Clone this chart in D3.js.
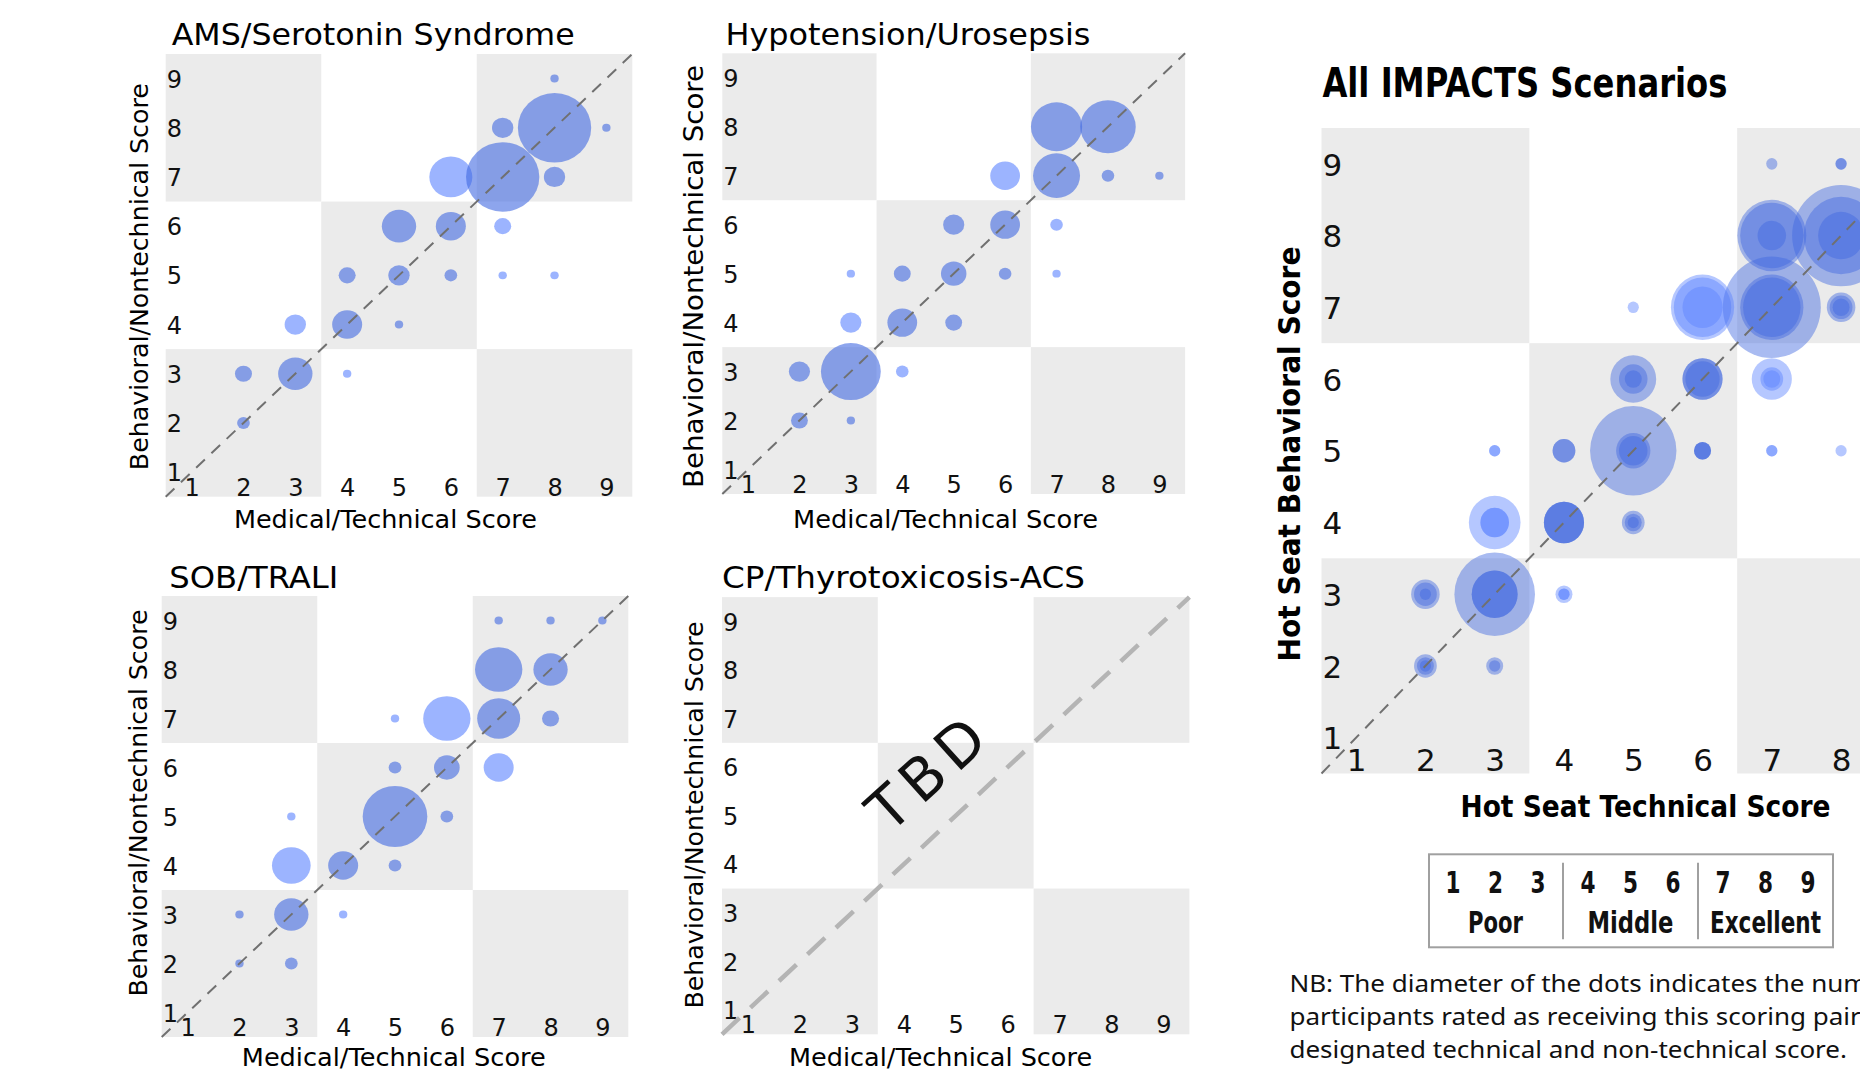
<!DOCTYPE html>
<html><head><meta charset="utf-8">
<script src="https://cdn.jsdelivr.net/npm/d3@7"></script>
<style>html,body{margin:0;padding:0;background:#fff;overflow:hidden}</style>
</head><body><svg id="c" width="1860" height="1072" xmlns="http://www.w3.org/2000/svg"></svg>
<script>
// ---------------- DATA ----------------
const scores = [1,2,3,4,5,6,7,8,9];
const tickLabels = ["1","2","3","4","5","6","7","8","9"];
const categoryLabels = ["Poor","Middle","Excellent"];
const scenarioTitles = ["AMS/Serotonin Syndrome","Hypotension/Urosepsis","SOB/TRALI","CP/Thyrotoxicosis-ACS"];
const combinedTitle = "All IMPACTS Scenarios";
const noteLines = [
  "NB: The diameter of the dots indicates the number of",
  "participants rated as receiving this scoring pair (i.e.",
  "designated technical and non-technical score."
];

// AMS / Serotonin Syndrome
const amsTech  = [8,8,9,7,6,7,8,5,6,7,4,5,6,7,8,3,4,5,2,3,4,2];
const amsBehav = [9,8,8,8,7,7,7,6,6,6,5,5,5,5,5,4,4,4,3,3,3,2];
const amsCount = [1,16,1,4,9,16,4,7,6,3,3,4,2,1,1,4,6,1,3,7,1,2];
// Hypotension / Urosepsis
const hypoTech  = [7,8,6,7,8,9,5,6,7,3,4,5,6,7,3,4,5,2,3,4,2,3];
const hypoBehav = [8,8,7,7,7,7,6,6,6,5,5,5,5,5,4,4,4,3,3,3,2,2];
const hypoCount = [11,12,6,10,2,1,4,6,2,1,3,5,2,1,4,6,3,4,13,2,3,1];
// SOB / TRALI
const sobTech  = [7,8,9,7,8,5,6,7,8,5,6,7,3,5,6,3,4,5,2,3,4,2,3];
const sobBehav = [9,9,9,8,8,7,7,7,7,6,6,6,5,5,5,4,4,4,3,3,3,2,2];
const sobCount = [1,1,1,10,7,1,10,9,3,2,5,6,1,14,2,8,6,2,1,7,1,1,2];
// CP / Thyrotoxicosis-ACS : TBD (no data)

const countDomain = [1,16];

// ---------------- HELPERS ----------------
function zip(t,b,c){ return t.map((v,i)=>({tech:v, behav:b[i], n:c[i]})); }
const amsData = zip(amsTech, amsBehav, amsCount);
const hypoData = zip(hypoTech, hypoBehav, hypoCount);
const sobData = zip(sobTech, sobBehav, sobCount);

const category = s => Math.ceil(s/3) - 1;
const diamUnits = d3.scaleLinear().domain(countDomain).range([0.1615, 1.414]);
const colConcordant = "#4169e1";
const colDiscordant = "#5a82ff";
const grayBg = "#ebebeb";
const mainFont = "'DejaVu Sans', Verdana, sans-serif";
const W = 1860;

const svg = d3.select("#c");
svg.append("rect").attr("width",1860).attr("height",1072).attr("fill","#fff");

function drawPanel(cfg){
  const g = svg.append("g");
  const x = d3.scaleLinear().domain([0.5,9.5]).range([cfg.x0, cfg.x1]);
  const y = d3.scaleLinear().domain([0.5,9.5]).range([cfg.y1, cfg.y0]);
  const ux = x(2)-x(1), uy = y(1)-y(2);

  // checkerboard background blocks
  const blocks = [];
  for (let i=0;i<3;i++) for (let j=0;j<3;j++) if ((i+j)%2===0) blocks.push({i,j});
  g.selectAll("rect.blk").data(blocks).join("rect").attr("class","blk")
    .attr("x", d=>x(0.5+3*d.i)).attr("y", d=>y(3.5+3*d.j))
    .attr("width", d=>x(3.5+3*d.i)-x(0.5+3*d.i))
    .attr("height", d=>y(0.5+3*d.j)-y(3.5+3*d.j))
    .attr("fill", grayBg);

  // tick labels via d3 axes (only those inside the picture)
  const xVals = scores.filter(v => x(v) + cfg.tickSize*0.35 <= W);
  const xa = g.append("g").attr("transform",`translate(0,${cfg.y1 - cfg.xTickOff})`)
    .call(d3.axisTop(x).tickValues(xVals).tickFormat(d=>tickLabels[d-1]).tickSize(0).tickPadding(0));
  const ya = g.append("g").attr("transform",`translate(${cfg.x0 + 1},0)`)
    .call(d3.axisRight(y).tickValues(scores).tickFormat(d=>tickLabels[d-1]).tickSize(0).tickPadding(0));
  [xa,ya].forEach(a=>{
    a.select(".domain").remove();
    a.attr("font-family", mainFont).attr("font-size", cfg.tickSize);
    a.selectAll("text").attr("fill","#111");
  });
  ya.selectAll("text").attr("dy","0.36em");

  // bubbles
  cfg.sets.forEach(set=>{
    g.append("g").selectAll("ellipse").data(set).join("ellipse")
      .attr("cx", d=>x(d.tech)).attr("cy", d=>y(d.behav))
      .attr("rx", d=>diamUnits(d.n)/2*ux).attr("ry", d=>diamUnits(d.n)/2*uy)
      .attr("fill", d=> category(d.tech)===category(d.behav) ? colConcordant : colDiscordant)
      .attr("fill-opacity", cfg.alpha);
  });

  // diagonal
  g.append("line").attr("x1",x(0.5)).attr("y1",y(0.5)).attr("x2",x(9.5)).attr("y2",y(9.5))
    .attr("stroke", cfg.diagColor).attr("stroke-width", cfg.diagW).attr("stroke-dasharray", cfg.diagDash);

  // TBD
  if (cfg.tbd){
    const cx = x(cfg.tbd.tx), cy = y(cfg.tbd.ty);
    g.append("text").attr("transform",`translate(${cx},${cy}) rotate(${cfg.tbd.angle})`)
      .attr("text-anchor","middle").attr("font-family",mainFont).attr("font-size",cfg.tbd.size)
      .attr("letter-spacing", cfg.tbd.ls).attr("fill","#111").text("TBD");
  }

  // titles
  g.append("text").attr("x",cfg.title.x).attr("y",cfg.title.y)
    .attr("font-family",mainFont).attr("font-size",cfg.title.size).attr("font-weight",cfg.title.weight||"normal")
    .attr("textLength",cfg.title.len).attr("lengthAdjust","spacingAndGlyphs").attr("fill","#000")
    .text(cfg.title.text);
  g.append("text").attr("x",cfg.xt.x).attr("y",cfg.xt.y).attr("text-anchor","middle")
    .attr("font-family",mainFont).attr("font-size",cfg.xt.size).attr("font-weight",cfg.xt.weight||"normal")
    .attr("textLength",cfg.xt.len).attr("lengthAdjust","spacingAndGlyphs").attr("fill","#000")
    .text(cfg.xt.text);
  g.append("text").attr("transform",`translate(${cfg.yt.x},${cfg.yt.y}) rotate(-90)`).attr("text-anchor","middle")
    .attr("font-family",mainFont).attr("font-size",cfg.yt.size).attr("font-weight",cfg.yt.weight||"normal")
    .attr("textLength",cfg.yt.len).attr("lengthAdjust","spacingAndGlyphs").attr("fill","#000")
    .text(cfg.yt.text);
}

const thinDiag = {diagColor:"#707070", diagW:2, diagDash:"12,9"};
const mt = "Medical/Technical Score", bt = "Behavioral/Nontechnical Score";

drawPanel(Object.assign({x0:165.7,x1:632.3,y0:54,y1:496.7, tickSize:24, xTickOff:1, alpha:0.6, sets:[amsData],
  title:{text:scenarioTitles[0], x:171.7, y:45, size:30, len:403},
  xt:{text:mt, x:385.4, y:527.5, size:24, len:303},
  yt:{text:bt, x:148, y:276.7, size:24, len:387}}, thinDiag));

drawPanel(Object.assign({x0:722.3,x1:1185.1,y0:53.3,y1:494, tickSize:24, xTickOff:1, alpha:0.6, sets:[hypoData],
  title:{text:scenarioTitles[1], x:725.4, y:45, size:30, len:365},
  xt:{text:mt, x:945.5, y:527.5, size:24, len:305},
  yt:{text:bt, x:703, y:276.5, size:26, len:423}}, thinDiag));

drawPanel(Object.assign({x0:161.7,x1:628.3,y0:596,y1:1037, tickSize:24, xTickOff:1, alpha:0.6, sets:[sobData],
  title:{text:scenarioTitles[2], x:169.3, y:587.5, size:30, len:169},
  xt:{text:mt, x:393.8, y:1066, size:24, len:304},
  yt:{text:bt, x:146.5, y:803, size:24, len:387}}, thinDiag));

drawPanel({x0:722,x1:1189.4,y0:597.1,y1:1034.3, tickSize:24, xTickOff:1, alpha:0.6, sets:[],
  diagColor:"#b4b4b4", diagW:4.5, diagDash:"24,15",
  tbd:{tx:4.75, ty:5.6, angle:-42, size:58, ls:8},
  title:{text:scenarioTitles[3], x:722, y:587.5, size:30, len:363},
  xt:{text:mt, x:940.6, y:1066, size:24, len:303},
  yt:{text:bt, x:702.5, y:815, size:24, len:387}});

drawPanel(Object.assign({x0:1321.5,x1:1945,y0:128,y1:773.5, tickSize:31, xTickOff:2.5, alpha:0.45, sets:[amsData,hypoData,sobData],
  title:{text:combinedTitle, x:1322.4, y:97, size:40, weight:"bold", len:405},
  xt:{text:"Hot Seat Technical Score", x:1645.5, y:816.5, size:30, weight:"bold", len:370},
  yt:{text:"Hot Seat Behavioral Score", x:1300, y:454, size:30, weight:"bold", len:415}}, thinDiag));

// ---------------- LEGEND BOX ----------------
const legFont = "'DejaVu Sans', sans-serif";
const lg = svg.append("g");
lg.append("rect").attr("x",1429).attr("y",854.3).attr("width",404).attr("height",93)
  .attr("fill","#fff").attr("stroke","#a0a0a0").attr("stroke-width",2);
const groupX = d3.scaleLinear().domain([0,2]).range([1495.5,1765.5]);
const itemOff = d3.scaleLinear().domain([-1,1]).range([-42.5,42.5]);
const catWidths = [55, 86, 111];
lg.selectAll("line.div").data([0.5,1.5]).join("line").attr("class","div")
  .attr("x1",d=>groupX(d)).attr("x2",d=>groupX(d)).attr("y1",862.7).attr("y2",939.3)
  .attr("stroke","#a0a0a0").attr("stroke-width",2);
lg.selectAll("text.num").data(scores).join("text").attr("class","num")
  .attr("x",d=>groupX(category(d)) + itemOff((d-1)%3 - 1)).attr("y",893.3)
  .attr("text-anchor","middle").attr("font-family",legFont).attr("font-size",30).attr("font-weight","bold")
  .attr("textLength",15).attr("lengthAdjust","spacingAndGlyphs")
  .attr("fill","#111").text(d=>tickLabels[d-1]);
lg.selectAll("text.cat").data(categoryLabels).join("text").attr("class","cat")
  .attr("x",(d,i)=>groupX(i)).attr("y",933.3)
  .attr("text-anchor","middle").attr("font-family",legFont).attr("font-size",30).attr("font-weight","bold")
  .attr("textLength",(d,i)=>catWidths[i]).attr("lengthAdjust","spacingAndGlyphs")
  .attr("fill","#111").text(d=>d);

// ---------------- NOTE ----------------
const noteG = svg.append("g");
const noteT = noteG.append("g");
noteT.selectAll("text").data(noteLines).join("text")
  .attr("x",0).attr("y",(d,i)=>i*33.3)
  .attr("font-family","'Noto Sans', 'Open Sans', sans-serif").attr("font-size",23).attr("fill","#111")
  .text(d=>d);
const lastLen = noteT.selectAll("text").nodes()[2].getComputedTextLength();
const sx = 558 / lastLen;
noteT.attr("transform", `translate(1289.4,991.7) scale(${sx},1)`);
</script>
</body></html>
